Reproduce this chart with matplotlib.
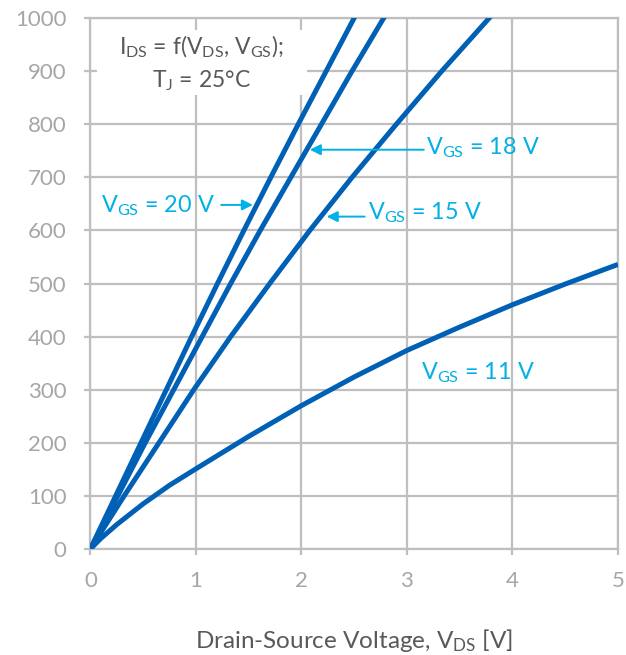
import matplotlib
matplotlib.use("Agg")
import matplotlib.pyplot as plt
from matplotlib.patches import Rectangle

plt.rcParams['font.family'] = ['Lato', 'DejaVu Sans']
plt.rcParams['mathtext.default'] = 'regular'

# 曲线数据
i_steep = [0, 100, 200, 300, 400, 500, 600, 700, 800, 900, 1000, 1050]
v_gs20 = [0, 0.24, 0.48, 0.72, 0.96, 1.205, 1.455, 1.71, 1.97, 2.235, 2.50, 2.63]
v_gs18 = [0, 0.26, 0.52, 0.79, 1.06, 1.33, 1.61, 1.90, 2.19, 2.48, 2.78, 2.93]
v_gs15 = [0, 0.32, 0.65, 0.98, 1.33, 1.70, 2.08, 2.48, 2.90, 3.33, 3.78, 4.01]

v_11 = [0, 0.1, 0.25, 0.5, 0.75, 1, 1.5, 2, 2.5, 3, 3.5, 4, 4.5, 5]
i_11 = [0, 20, 46, 85, 120, 151, 212, 270, 324, 374, 418, 460, 499, 536]

x_ticks = [0, 1, 2, 3, 4, 5]
y_ticks = list(range(0, 1001, 100))

line_c = '#0060B5'
label_c = '#00B0E6'
grid_c = '#BFBFBF'
text_c = '#595959'

fig = plt.figure(figsize=(6.26, 6.55), dpi=100)
ax = fig.add_axes([0.1443, 0.1618, 0.8429, 0.8107])

for v, i in [(v_gs20, i_steep), (v_gs18, i_steep), (v_gs15, i_steep), (v_11, i_11)]:
    ax.plot(v, i, color=line_c, lw=3.6, zorder=3, solid_capstyle='butt',
            solid_joinstyle='round')

ax.set_xlim(0, 5)
ax.set_ylim(0, 1000)
ax.set_xticks(x_ticks)
ax.set_yticks(y_ticks)
ax.grid(True, color=grid_c, lw=1.6)
ax.set_axisbelow(True)
for s in ax.spines.values():
    s.set_color(grid_c)
    s.set_linewidth(1.6)
ax.tick_params(axis='both', colors=grid_c, labelcolor='#A6A6A6', labelsize=16,
               length=4, width=1.6)
ax.tick_params(axis='y', pad=13)
ax.tick_params(axis='x', pad=12)

# 说明文字的白色底框
ax.add_patch(Rectangle((0.013, 0.855), 0.397, 0.122, transform=ax.transAxes,
                       facecolor='white', edgecolor='none', zorder=1))
ax.text(1.05, 931, r'I$_{DS}$ = f(V$_{DS}$, V$_{GS}$);', color=text_c, fontsize=16.5,
        ha='center', va='baseline', zorder=4)
ax.text(1.05, 869, r'T$_{J}$ = 25°C', color=text_c, fontsize=16.5,
        ha='center', va='baseline', zorder=4)

# 标注
arrow = dict(arrowstyle='-|>', color=label_c, lw=1.4, mutation_scale=16,
             shrinkA=0, shrinkB=0)
ax.annotate('', xy=(2.08, 752), xytext=(3.16, 752), arrowprops=arrow, zorder=4)
ax.text(3.18, 743, r'V$_{GS}$ = 18 V', color=label_c, fontsize=16.8, va='baseline', zorder=4)

ax.annotate('', xy=(1.54, 648), xytext=(1.24, 648), arrowprops=arrow, zorder=4)
ax.text(1.18, 633, r'V$_{GS}$ = 20 V', color=label_c, fontsize=16.8, ha='right',
        va='baseline', zorder=4)

ax.annotate('', xy=(2.24, 626), xytext=(2.60, 626), arrowprops=arrow, zorder=4)
ax.text(2.63, 620, r'V$_{GS}$ = 15 V', color=label_c, fontsize=16.8, va='baseline', zorder=4)

ax.text(3.13, 319, r'V$_{GS}$ = 11 V', color=label_c, fontsize=16.8, va='baseline', zorder=4)

ax.set_xlabel(r'Drain-Source Voltage, V$_{DS}$ [V]', color=text_c, fontsize=17.5,
              labelpad=26)

fig.savefig('out.png', dpi=100)
